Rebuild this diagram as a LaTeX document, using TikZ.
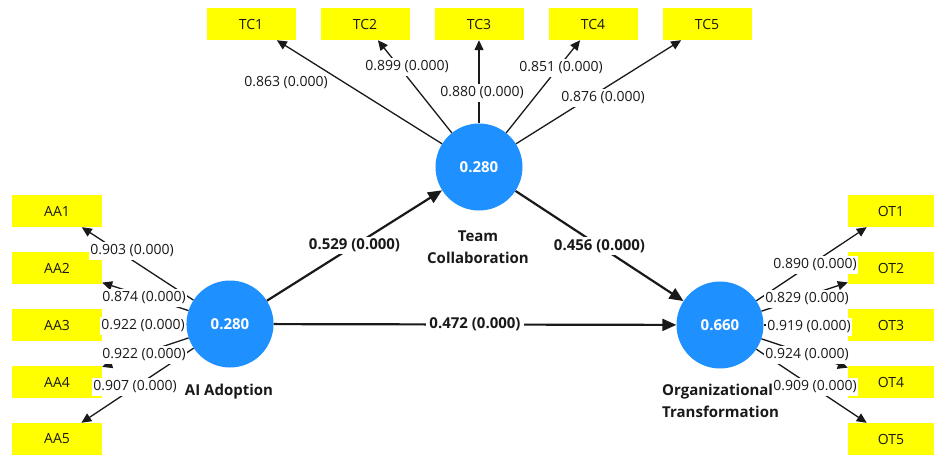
\documentclass[tikz,border=0pt]{standalone}
\usepackage{fontspec}
\setmainfont{Open Sans}
\usetikzlibrary{arrows.meta}
\definecolor{lvblue}{RGB}{30,144,255}
\definecolor{indyellow}{RGB}{255,255,0}
\definecolor{ink}{RGB}{25,25,25}

\begin{document}
\begin{tikzpicture}[x=1pt,y=-1pt,
  indicator/.style={fill=indyellow, minimum width=90pt, minimum height=32pt,
    inner sep=0pt, text=ink, font=\fontsize{14}{16}\selectfont},
  latent/.style={circle, fill=lvblue, minimum size=87pt, inner sep=0pt,
    text=white, font=\bfseries\fontsize{15}{18}\selectfont},
  loading/.style={-{Triangle[length=10pt,width=9pt]}, line width=1.3pt, draw=ink},
  structural/.style={-{Triangle[length=14pt,width=12pt]}, line width=2.2pt, draw=ink},
  loadlabel/.style={fill=white, inner xsep=1.5pt, inner ysep=3pt, text=ink,
    font=\fontsize{14}{16}\selectfont},
  pathlabel/.style={fill=white, inner xsep=3pt, inner ysep=2pt, text=ink,
    font=\bfseries\fontsize{15}{18}\selectfont},
  lvname/.style={text=ink, font=\bfseries\fontsize{15}{22}\selectfont, inner sep=0pt}]

\useasboundingbox (0,0) rectangle (934,455);

% latent variables
\node[latent] (ai) at (230,324) {0.280};
\node[latent] (tc) at (479,167) {0.280};
\node[latent] (ot) at (720,325) {0.660};

% indicators of AI Adoption
\node[indicator] (aa1) at (57,211) {AA1};
\node[indicator] (aa2) at (57,268) {AA2};
\node[indicator] (aa3) at (57,325) {AA3};
\node[indicator] (aa4) at (57,382) {AA4};
\node[indicator] (aa5) at (57,439) {AA5};

% indicators of Team Collaboration
\node[indicator, minimum width=89pt] (tc1) at (251,24) {TC1};
\node[indicator, minimum width=89pt] (tc2) at (365,24) {TC2};
\node[indicator, minimum width=89pt] (tc3) at (479,24) {TC3};
\node[indicator, minimum width=89pt] (tc4) at (593,24) {TC4};
\node[indicator, minimum width=89pt] (tc5) at (707,24) {TC5};

% indicators of Organizational Transformation
\node[indicator, minimum width=86pt] (ot1) at (891,211) {OT1};
\node[indicator, minimum width=86pt] (ot2) at (891,268) {OT2};
\node[indicator, minimum width=86pt] (ot3) at (891,325) {OT3};
\node[indicator, minimum width=86pt] (ot4) at (891,382) {OT4};
\node[indicator, minimum width=86pt] (ot5) at (891,439) {OT5};

% outer loadings
\foreach \i in {1,...,5} {
  \draw[loading] (ai) -- (aa\i);
  \draw[loading] (tc) -- (tc\i);
  \draw[loading] (ot) -- (ot\i);
}

% loading labels
\node[loadlabel] (laa1) at (132,251) {0.903 (0.000)};
\node[loadlabel] (laa2) at (144,298) {0.874 (0.000)};
\node[loadlabel] (laa3) at (143,326) {0.922 (0.000)};
\node[loadlabel] (laa4) at (144,355) {0.922 (0.000)};
\node[loadlabel] (laa5) at (135,387) {0.907 (0.000)};

\node[loadlabel] (ltc1) at (286,83) {0.863 (0.000)};
\node[loadlabel] (ltc2) at (407,67) {0.899 (0.000)};
\node[loadlabel] (ltc3) at (482,93) {0.880 (0.000)};
\node[loadlabel] (ltc4) at (561,68) {0.851 (0.000)};
\node[loadlabel] (ltc5) at (603,98) {0.876 (0.000)};

\node[loadlabel] (lot1) at (815,265) {0.890 (0.000)};
\node[loadlabel] (lot2) at (807,299) {0.829 (0.000)};
\node[loadlabel] (lot3) at (809,327) {0.919 (0.000)};
\node[loadlabel] (lot4) at (807,355) {0.924 (0.000)};
\node[loadlabel] (lot5) at (815,387) {0.909 (0.000)};

% structural paths
\draw[structural] (ai) -- node[pathlabel] {0.529 (0.000)} (tc);
\draw[structural] (tc) -- node[pathlabel] {0.456 (0.000)} (ot);
\draw[structural] (ai) -- node[pathlabel] {0.472 (0.000)} (ot);

% construct names
\node[lvname] (nai) at (229,392) {AI Adoption};
\node[lvname, align=center] (ntc) at (478,247) {Team\\Collaboration};
\node[lvname, align=left, anchor=west] (not) at (662,401) {Organizational\\Transformation};

\end{tikzpicture}
\end{document}
